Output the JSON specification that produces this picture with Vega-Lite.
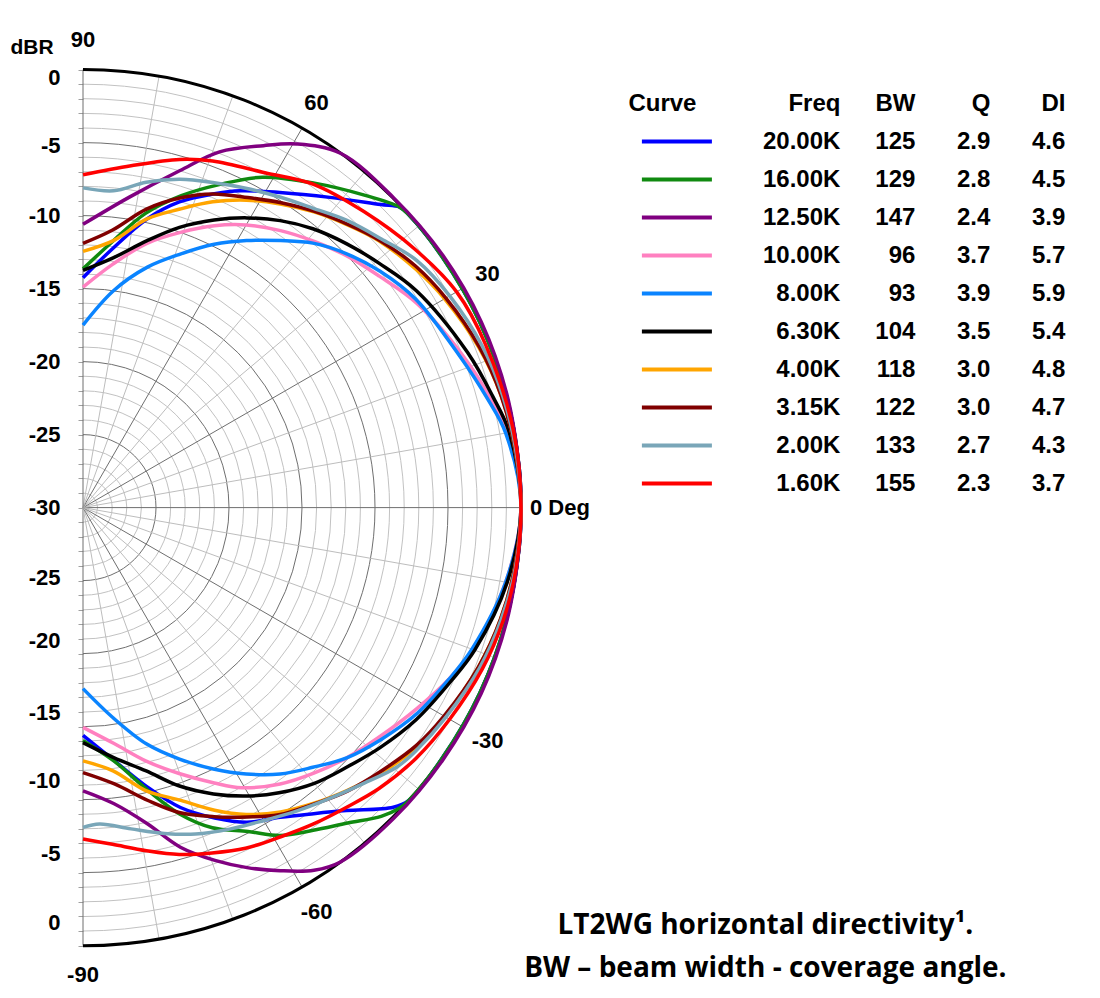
{
  "$schema": "https://vega.github.io/schema/vega-lite/v6.json",
  "background": "white",
  "padding": {"left": 10, "top": 29, "right": 10, "bottom": 5},
  "config": {"view": {"stroke": null}},
  "bounds": "flush",
  "spacing": 154.4,
  "resolve": {"scale": {"x": "independent", "y": "independent", "color": "shared"}},
  "datasets": {
    "curves": [
      {"f":"20.00K","a":-90,"db":-14.4},{"f":"20.00K","a":-83,"db":-12.55},{"f":"20.00K","a":-77,"db":-10.35},{"f":"20.00K","a":-72,"db":-8.4},{"f":"20.00K","a":-67,"db":-6.9},{"f":"20.00K","a":-62.5,"db":-5.7},{"f":"20.00K","a":-57.5,"db":-4.85},{"f":"20.00K","a":-53,"db":-3.75},{"f":"20.00K","a":-49,"db":-2.5},{"f":"20.00K","a":-44,"db":-0.45},{"f":"20.00K","a":-42,"db":0},{"f":"20.00K","a":-35,"db":0},{"f":"20.00K","a":-25,"db":0},{"f":"20.00K","a":-15,"db":0},{"f":"20.00K","a":-5,"db":0},{"f":"20.00K","a":0,"db":0},{"f":"20.00K","a":5,"db":0},{"f":"20.00K","a":15,"db":0},{"f":"20.00K","a":25,"db":0},{"f":"20.00K","a":35,"db":0},{"f":"20.00K","a":42,"db":0},{"f":"20.00K","a":43.5,"db":-0.1},{"f":"20.00K","a":45.5,"db":-0.9},{"f":"20.00K","a":51.5,"db":-2.85},{"f":"20.00K","a":58,"db":-4.55},{"f":"20.00K","a":63.5,"db":-5.75},{"f":"20.00K","a":67.5,"db":-6.75},{"f":"20.00K","a":72.5,"db":-8.05},{"f":"20.00K","a":77.5,"db":-9.75},{"f":"20.00K","a":83.5,"db":-12.15},{"f":"20.00K","a":90,"db":-14.25},
      {"f":"16.00K","a":-90,"db":-14.05},{"f":"16.00K","a":-83,"db":-12.5},{"f":"16.00K","a":-77,"db":-10.1},{"f":"16.00K","a":-72.5,"db":-8.0},{"f":"16.00K","a":-68,"db":-6.35},{"f":"16.00K","a":-63,"db":-5.1},{"f":"16.00K","a":-59,"db":-3.8},{"f":"16.00K","a":-54.5,"db":-2.85},{"f":"16.00K","a":-50,"db":-1.8},{"f":"16.00K","a":-46,"db":-0.6},{"f":"16.00K","a":-43.5,"db":-0.1},{"f":"16.00K","a":-42,"db":0},{"f":"16.00K","a":-35,"db":0},{"f":"16.00K","a":-25,"db":0},{"f":"16.00K","a":-15,"db":0},{"f":"16.00K","a":-5,"db":0},{"f":"16.00K","a":0,"db":0},{"f":"16.00K","a":5,"db":0},{"f":"16.00K","a":15,"db":0},{"f":"16.00K","a":25,"db":0},{"f":"16.00K","a":35,"db":0},{"f":"16.00K","a":42,"db":0},{"f":"16.00K","a":43.5,"db":-0.1},{"f":"16.00K","a":48,"db":-1.2},{"f":"16.00K","a":54.5,"db":-2.7},{"f":"16.00K","a":61.5,"db":-4.25},{"f":"16.00K","a":67,"db":-5.95},{"f":"16.00K","a":72.5,"db":-7.6},{"f":"16.00K","a":78,"db":-9.4},{"f":"16.00K","a":83.5,"db":-11.6},{"f":"16.00K","a":90,"db":-13.65},
      {"f":"12.50K","a":-90,"db":-10.6},{"f":"12.50K","a":-84,"db":-9.6},{"f":"12.50K","a":-78.5,"db":-7.9},{"f":"12.50K","a":-74,"db":-5.8},{"f":"12.50K","a":-69.5,"db":-4.2},{"f":"12.50K","a":-65.5,"db":-2.9},{"f":"12.50K","a":-61.5,"db":-1.7},{"f":"12.50K","a":-57.5,"db":-0.55},{"f":"12.50K","a":-54,"db":0},{"f":"12.50K","a":-45,"db":0.1},{"f":"12.50K","a":-35,"db":0.1},{"f":"12.50K","a":-25,"db":0.1},{"f":"12.50K","a":-15,"db":0.05},{"f":"12.50K","a":-5,"db":0},{"f":"12.50K","a":0,"db":0},{"f":"12.50K","a":5,"db":0},{"f":"12.50K","a":15,"db":0.05},{"f":"12.50K","a":25,"db":0.1},{"f":"12.50K","a":35,"db":0.1},{"f":"12.50K","a":45,"db":0.05},{"f":"12.50K","a":54,"db":0},{"f":"12.50K","a":59.5,"db":-1.1},{"f":"12.50K","a":63.5,"db":-2.3},{"f":"12.50K","a":69,"db":-3.9},{"f":"12.50K","a":74,"db":-6.0},{"f":"12.50K","a":81.5,"db":-8.5},{"f":"12.50K","a":90,"db":-10.6},
      {"f":"10.00K","a":-90,"db":-14.95},{"f":"10.00K","a":-82.5,"db":-13.7},{"f":"10.00K","a":-76,"db":-12.1},{"f":"10.00K","a":-70,"db":-10.6},{"f":"10.00K","a":-64.5,"db":-9.1},{"f":"10.00K","a":-60.5,"db":-7.95},{"f":"10.00K","a":-54.5,"db":-6.75},{"f":"10.00K","a":-49,"db":-5.9},{"f":"10.00K","a":-43.5,"db":-5.1},{"f":"10.00K","a":-37.5,"db":-4.3},{"f":"10.00K","a":-31,"db":-3.3},{"f":"10.00K","a":-25,"db":-2.3},{"f":"10.00K","a":-20,"db":-1.6},{"f":"10.00K","a":-10,"db":-0.6},{"f":"10.00K","a":0,"db":0},{"f":"10.00K","a":10,"db":-0.5},{"f":"10.00K","a":15,"db":-1.1},{"f":"10.00K","a":22,"db":-2.0},{"f":"10.00K","a":31.5,"db":-3.2},{"f":"10.00K","a":38,"db":-4.25},{"f":"10.00K","a":43.5,"db":-5.0},{"f":"10.00K","a":49,"db":-5.85},{"f":"10.00K","a":54.5,"db":-6.7},{"f":"10.00K","a":60,"db":-7.65},{"f":"10.00K","a":65,"db":-8.7},{"f":"10.00K","a":70.5,"db":-10.0},{"f":"10.00K","a":76.5,"db":-11.4},{"f":"10.00K","a":83,"db":-13.2},{"f":"10.00K","a":90,"db":-14.9},
      {"f":"8.00K","a":-90,"db":-17.6},{"f":"8.00K","a":-82,"db":-15.5},{"f":"8.00K","a":-75,"db":-13.25},{"f":"8.00K","a":-69,"db":-11.55},{"f":"8.00K","a":-63.5,"db":-10.0},{"f":"8.00K","a":-58.5,"db":-8.6},{"f":"8.00K","a":-53.5,"db":-7.3},{"f":"8.00K","a":-48.5,"db":-6.25},{"f":"8.00K","a":-43.5,"db":-5.1},{"f":"8.00K","a":-38,"db":-4.15},{"f":"8.00K","a":-31.5,"db":-3.1},{"f":"8.00K","a":-25,"db":-2.3},{"f":"8.00K","a":-20,"db":-1.65},{"f":"8.00K","a":-10,"db":-0.6},{"f":"8.00K","a":0,"db":0},{"f":"8.00K","a":10,"db":-0.6},{"f":"8.00K","a":15,"db":-1.3},{"f":"8.00K","a":22,"db":-2.2},{"f":"8.00K","a":32,"db":-3.1},{"f":"8.00K","a":38.5,"db":-4.0},{"f":"8.00K","a":44,"db":-4.95},{"f":"8.00K","a":49,"db":-6.0},{"f":"8.00K","a":53.5,"db":-7.25},{"f":"8.00K","a":58.5,"db":-8.55},{"f":"8.00K","a":63.5,"db":-9.85},{"f":"8.00K","a":69,"db":-11.4},{"f":"8.00K","a":75,"db":-12.95},{"f":"8.00K","a":82,"db":-15.0},{"f":"8.00K","a":90,"db":-17.5},
      {"f":"6.30K","a":-90,"db":-13.9},{"f":"6.30K","a":-83,"db":-12.75},{"f":"6.30K","a":-76.5,"db":-11.45},{"f":"6.30K","a":-71,"db":-9.85},{"f":"6.30K","a":-65.5,"db":-8.45},{"f":"6.30K","a":-60.5,"db":-7.3},{"f":"6.30K","a":-55.5,"db":-6.3},{"f":"6.30K","a":-50,"db":-5.35},{"f":"6.30K","a":-44.5,"db":-4.65},{"f":"6.30K","a":-39,"db":-3.85},{"f":"6.30K","a":-32.5,"db":-2.95},{"f":"6.30K","a":-25,"db":-2.1},{"f":"6.30K","a":-20,"db":-1.45},{"f":"6.30K","a":-10,"db":-0.5},{"f":"6.30K","a":0,"db":0},{"f":"6.30K","a":10,"db":-0.35},{"f":"6.30K","a":15,"db":-0.9},{"f":"6.30K","a":22,"db":-1.6},{"f":"6.30K","a":33,"db":-2.75},{"f":"6.30K","a":39.5,"db":-3.7},{"f":"6.30K","a":45,"db":-4.45},{"f":"6.30K","a":50.5,"db":-5.25},{"f":"6.30K","a":55.5,"db":-6.15},{"f":"6.30K","a":60.5,"db":-7.2},{"f":"6.30K","a":65.5,"db":-8.35},{"f":"6.30K","a":71,"db":-9.7},{"f":"6.30K","a":76.5,"db":-11.2},{"f":"6.30K","a":83,"db":-12.75},{"f":"6.30K","a":90,"db":-13.75},
      {"f":"4.00K","a":-90,"db":-12.65},{"f":"4.00K","a":-83.5,"db":-11.85},{"f":"4.00K","a":-77.5,"db":-10.15},{"f":"4.00K","a":-71.5,"db":-8.85},{"f":"4.00K","a":-66.5,"db":-7.4},{"f":"4.00K","a":-62,"db":-6.2},{"f":"4.00K","a":-57,"db":-5.15},{"f":"4.00K","a":-52,"db":-4.3},{"f":"4.00K","a":-47,"db":-3.5},{"f":"4.00K","a":-42,"db":-2.7},{"f":"4.00K","a":-35.5,"db":-1.85},{"f":"4.00K","a":-30,"db":-1.4},{"f":"4.00K","a":-22,"db":-0.8},{"f":"4.00K","a":-15,"db":-0.4},{"f":"4.00K","a":-8,"db":-0.15},{"f":"4.00K","a":0,"db":0},{"f":"4.00K","a":8,"db":-0.15},{"f":"4.00K","a":15,"db":-0.35},{"f":"4.00K","a":22,"db":-0.75},{"f":"4.00K","a":30,"db":-1.4},{"f":"4.00K","a":35.5,"db":-1.95},{"f":"4.00K","a":42,"db":-2.7},{"f":"4.00K","a":47,"db":-3.5},{"f":"4.00K","a":52,"db":-4.3},{"f":"4.00K","a":57,"db":-5.2},{"f":"4.00K","a":62,"db":-6.15},{"f":"4.00K","a":67,"db":-7.25},{"f":"4.00K","a":72,"db":-8.5},{"f":"4.00K","a":77.5,"db":-9.75},{"f":"4.00K","a":83.5,"db":-11.6},{"f":"4.00K","a":90,"db":-12.45},
      {"f":"3.15K","a":-90,"db":-11.85},{"f":"3.15K","a":-83.5,"db":-10.95},{"f":"3.15K","a":-77.5,"db":-9.45},{"f":"3.15K","a":-72.5,"db":-8.1},{"f":"3.15K","a":-67,"db":-7.0},{"f":"3.15K","a":-62,"db":-6.0},{"f":"3.15K","a":-57.5,"db":-5.05},{"f":"3.15K","a":-52,"db":-4.25},{"f":"3.15K","a":-47,"db":-3.45},{"f":"3.15K","a":-41.5,"db":-2.75},{"f":"3.15K","a":-35.5,"db":-1.95},{"f":"3.15K","a":-30,"db":-1.45},{"f":"3.15K","a":-22,"db":-0.8},{"f":"3.15K","a":-15,"db":-0.4},{"f":"3.15K","a":-8,"db":-0.15},{"f":"3.15K","a":0,"db":0},{"f":"3.15K","a":8,"db":-0.15},{"f":"3.15K","a":15,"db":-0.35},{"f":"3.15K","a":22,"db":-0.7},{"f":"3.15K","a":30,"db":-1.3},{"f":"3.15K","a":36,"db":-1.85},{"f":"3.15K","a":42,"db":-2.65},{"f":"3.15K","a":47,"db":-3.45},{"f":"3.15K","a":52,"db":-4.25},{"f":"3.15K","a":57,"db":-5.1},{"f":"3.15K","a":62,"db":-5.95},{"f":"3.15K","a":67.5,"db":-6.75},{"f":"3.15K","a":72.5,"db":-7.75},{"f":"3.15K","a":78,"db":-9.1},{"f":"3.15K","a":84,"db":-10.9},{"f":"3.15K","a":90,"db":-11.9},
      {"f":"2.00K","a":-90,"db":-8.1},{"f":"2.00K","a":-87,"db":-8.3},{"f":"2.00K","a":-81.5,"db":-7.75},{"f":"2.00K","a":-76,"db":-7.0},{"f":"2.00K","a":-71,"db":-6.35},{"f":"2.00K","a":-65.5,"db":-5.8},{"f":"2.00K","a":-60,"db":-5.25},{"f":"2.00K","a":-55,"db":-4.6},{"f":"2.00K","a":-49.5,"db":-3.85},{"f":"2.00K","a":-44.5,"db":-3.05},{"f":"2.00K","a":-39.5,"db":-2.1},{"f":"2.00K","a":-36,"db":-1.75},{"f":"2.00K","a":-30,"db":-1.3},{"f":"2.00K","a":-22,"db":-0.7},{"f":"2.00K","a":-15,"db":-0.35},{"f":"2.00K","a":-8,"db":-0.1},{"f":"2.00K","a":0,"db":0},{"f":"2.00K","a":8,"db":-0.1},{"f":"2.00K","a":15,"db":-0.25},{"f":"2.00K","a":22,"db":-0.5},{"f":"2.00K","a":30,"db":-1.0},{"f":"2.00K","a":36.5,"db":-1.55},{"f":"2.00K","a":42,"db":-2.5},{"f":"2.00K","a":47.5,"db":-3.3},{"f":"2.00K","a":52.5,"db":-4.15},{"f":"2.00K","a":57.5,"db":-4.8},{"f":"2.00K","a":63,"db":-5.45},{"f":"2.00K","a":68,"db":-6.0},{"f":"2.00K","a":73.5,"db":-6.55},{"f":"2.00K","a":79,"db":-7.3},{"f":"2.00K","a":84.5,"db":-8.2},{"f":"2.00K","a":90,"db":-8.1},
      {"f":"1.60K","a":-90,"db":-7.3},{"f":"1.60K","a":-85,"db":-6.85},{"f":"1.60K","a":-79.5,"db":-6.1},{"f":"1.60K","a":-74.5,"db":-5.35},{"f":"1.60K","a":-69.5,"db":-4.75},{"f":"1.60K","a":-64.5,"db":-4.15},{"f":"1.60K","a":-59,"db":-3.7},{"f":"1.60K","a":-54,"db":-3.2},{"f":"1.60K","a":-48.5,"db":-2.65},{"f":"1.60K","a":-43.5,"db":-2.05},{"f":"1.60K","a":-37,"db":-1.45},{"f":"1.60K","a":-30,"db":-1.0},{"f":"1.60K","a":-22,"db":-0.5},{"f":"1.60K","a":-15,"db":-0.2},{"f":"1.60K","a":-8,"db":-0.05},{"f":"1.60K","a":0,"db":0},{"f":"1.60K","a":10,"db":-0.05},{"f":"1.60K","a":22,"db":-0.25},{"f":"1.60K","a":30,"db":-0.45},{"f":"1.60K","a":38,"db":-1.2},{"f":"1.60K","a":46.5,"db":-2.05},{"f":"1.60K","a":54.5,"db":-2.8},{"f":"1.60K","a":61.5,"db":-3.9},{"f":"1.60K","a":69.5,"db":-4.65},{"f":"1.60K","a":74.5,"db":-5.25},{"f":"1.60K","a":82,"db":-6.35},{"f":"1.60K","a":90,"db":-7.2}
    ],
    "table": [
      {"f":"20.00K","bw":"125","q":"2.9","di":"4.6"},
      {"f":"16.00K","bw":"129","q":"2.8","di":"4.5"},
      {"f":"12.50K","bw":"147","q":"2.4","di":"3.9"},
      {"f":"10.00K","bw":"96","q":"3.7","di":"5.7"},
      {"f":"8.00K","bw":"93","q":"3.9","di":"5.9"},
      {"f":"6.30K","bw":"104","q":"3.5","di":"5.4"},
      {"f":"4.00K","bw":"118","q":"3.0","di":"4.8"},
      {"f":"3.15K","bw":"122","q":"3.0","di":"4.7"},
      {"f":"2.00K","bw":"133","q":"2.7","di":"4.3"},
      {"f":"1.60K","bw":"155","q":"2.3","di":"3.7"}
    ],
    "rings": [
      {"r":1},{"r":2},{"r":3},{"r":4},{"r":5},{"r":6},{"r":7},{"r":8},{"r":9},{"r":10},
      {"r":11},{"r":12},{"r":13},{"r":14},{"r":15},{"r":16},{"r":17},{"r":18},{"r":19},{"r":20},
      {"r":21},{"r":22},{"r":23},{"r":24},{"r":25},{"r":26},{"r":27},{"r":28},{"r":29}
    ],
    "spokes": [
      {"a":-90,"r":0},{"a":-90,"r":30},{"a":-80,"r":0},{"a":-80,"r":30},{"a":-70,"r":0},{"a":-70,"r":30},
      {"a":-60,"r":0},{"a":-60,"r":30},{"a":-50,"r":0},{"a":-50,"r":30},{"a":-40,"r":0},{"a":-40,"r":30},
      {"a":-30,"r":0},{"a":-30,"r":30},{"a":-20,"r":0},{"a":-20,"r":30},{"a":-10,"r":0},{"a":-10,"r":30},
      {"a":0,"r":0},{"a":0,"r":30},{"a":10,"r":0},{"a":10,"r":30},{"a":20,"r":0},{"a":20,"r":30},
      {"a":30,"r":0},{"a":30,"r":30},{"a":40,"r":0},{"a":40,"r":30},{"a":50,"r":0},{"a":50,"r":30},
      {"a":60,"r":0},{"a":60,"r":30},{"a":70,"r":0},{"a":70,"r":30},{"a":80,"r":0},{"a":80,"r":30},
      {"a":90,"r":0},{"a":90,"r":30}
    ]
  },
  "hconcat": [
    {
      "width": 452.6,
      "height": 905.2,
      "layer": [
        {
          "data": {"name": "rings"},
          "mark": {"type": "point", "shape": "circle", "filled": false, "clip": true, "strokeWidth": 1, "opacity": 1},
          "encoding": {
            "x": {"datum": 0, "type": "quantitative", "scale": {"domain": [0, 31], "nice": false, "zero": false}, "axis": null},
            "y": {"datum": 0, "type": "quantitative", "scale": {"domain": [-31, 31], "nice": false, "zero": false},
              "axis": {"values": [-30,-29,-28,-27,-26,-25,-24,-23,-22,-21,-20,-19,-18,-17,-16,-15,-14,-13,-12,-11,-10,-9,-8,-7,-6,-5,-4,-3,-2,-1,0,1,2,3,4,5,6,7,8,9,10,11,12,13,14,15,16,17,18,19,20,21,22,23,24,25,26,27,28,29,30], "labelExpr": "datum.value % 5 != 0 ? '' : (abs(datum.value) == 30 ? '0' : '-' + (30 - abs(datum.value)))", "labelFont": "Liberation Sans", "labelFontWeight": "bold", "labelFontSize": 22, "labelColor": "black", "labelPadding": 18, "labelOverlap": false, "labelBound": false, "labelBaseline": "middle", "labelOffset": {"condition": [{"test": "datum.value == 30", "value": 8}, {"test": "datum.value == 25", "value": 3}, {"test": "datum.value == -5", "value": -3}, {"test": "datum.value == -10", "value": -13}, {"test": "datum.value == -15", "value": -14}, {"test": "datum.value == -20 || datum.value == -25", "value": -19}, {"test": "datum.value == -30", "value": -23}], "value": 0}, "tickSize": 5, "tickColor": "#a0a0a0", "domain": false, "grid": false, "title": "dBR", "titleAngle": 0, "titleAlign": "left", "titleBaseline": "middle", "titleX": -73, "titleY": -8, "titleFont": "Liberation Sans", "titleFontWeight": "bold", "titleFontSize": 21, "titleColor": "black"}},
            "size": {"field": "r", "type": "quantitative", "scale": {"type": "pow", "exponent": 2, "domain": [0, 30], "range": [0, 767376]}, "legend": null},
            "stroke": {"condition": {"test": "datum.r % 5 == 0", "value": "#6f6f6f"}, "value": "#c2c2c2"}
          }
        },
        {
          "data": {"name": "spokes"},
          "transform": [
            {"calculate": "datum.r * cos(datum.a * PI / 180)", "as": "sx"},
            {"calculate": "datum.r * sin(datum.a * PI / 180)", "as": "sy"}
          ],
          "mark": {"type": "line", "strokeWidth": 1},
          "encoding": {
            "x": {"field": "sx", "type": "quantitative", "scale": {"domain": [0, 31], "nice": false, "zero": false}, "axis": null},
            "y": {"field": "sy", "type": "quantitative", "scale": {"domain": [-31, 31], "nice": false, "zero": false},
              "axis": {"values": [-30,-29,-28,-27,-26,-25,-24,-23,-22,-21,-20,-19,-18,-17,-16,-15,-14,-13,-12,-11,-10,-9,-8,-7,-6,-5,-4,-3,-2,-1,0,1,2,3,4,5,6,7,8,9,10,11,12,13,14,15,16,17,18,19,20,21,22,23,24,25,26,27,28,29,30], "labelExpr": "datum.value % 5 != 0 ? '' : (abs(datum.value) == 30 ? '0' : '-' + (30 - abs(datum.value)))", "labelFont": "Liberation Sans", "labelFontWeight": "bold", "labelFontSize": 22, "labelColor": "black", "labelPadding": 18, "labelOverlap": false, "labelBound": false, "labelBaseline": "middle", "labelOffset": {"condition": [{"test": "datum.value == 30", "value": 8}, {"test": "datum.value == 25", "value": 3}, {"test": "datum.value == -5", "value": -3}, {"test": "datum.value == -10", "value": -13}, {"test": "datum.value == -15", "value": -14}, {"test": "datum.value == -20 || datum.value == -25", "value": -19}, {"test": "datum.value == -30", "value": -23}], "value": 0}, "tickSize": 5, "tickColor": "#a0a0a0", "domain": false, "grid": false, "title": "dBR", "titleAngle": 0, "titleAlign": "left", "titleBaseline": "middle", "titleX": -73, "titleY": -8, "titleFont": "Liberation Sans", "titleFontWeight": "bold", "titleFontSize": 21, "titleColor": "black"}},
            "detail": {"field": "a", "type": "nominal"},
            "order": {"field": "r", "type": "quantitative"},
            "color": {"condition": {"test": "datum.a % 30 == 0", "value": "#6f6f6f"}, "value": "#bdbdbd"}
          }
        },
        {
          "data": {"values": [{"r": 30}]},
          "mark": {"type": "point", "shape": "circle", "filled": false, "clip": true, "strokeWidth": 3, "opacity": 1, "stroke": "black"},
          "encoding": {
            "x": {"datum": 0, "type": "quantitative", "scale": {"domain": [0, 31], "nice": false, "zero": false}, "axis": null},
            "y": {"datum": 0, "type": "quantitative", "scale": {"domain": [-31, 31], "nice": false, "zero": false},
              "axis": {"values": [-30,-29,-28,-27,-26,-25,-24,-23,-22,-21,-20,-19,-18,-17,-16,-15,-14,-13,-12,-11,-10,-9,-8,-7,-6,-5,-4,-3,-2,-1,0,1,2,3,4,5,6,7,8,9,10,11,12,13,14,15,16,17,18,19,20,21,22,23,24,25,26,27,28,29,30], "labelExpr": "datum.value % 5 != 0 ? '' : (abs(datum.value) == 30 ? '0' : '-' + (30 - abs(datum.value)))", "labelFont": "Liberation Sans", "labelFontWeight": "bold", "labelFontSize": 22, "labelColor": "black", "labelPadding": 18, "labelOverlap": false, "labelBound": false, "labelBaseline": "middle", "labelOffset": {"condition": [{"test": "datum.value == 30", "value": 8}, {"test": "datum.value == 25", "value": 3}, {"test": "datum.value == -5", "value": -3}, {"test": "datum.value == -10", "value": -13}, {"test": "datum.value == -15", "value": -14}, {"test": "datum.value == -20 || datum.value == -25", "value": -19}, {"test": "datum.value == -30", "value": -23}], "value": 0}, "tickSize": 5, "tickColor": "#a0a0a0", "domain": false, "grid": false, "title": "dBR", "titleAngle": 0, "titleAlign": "left", "titleBaseline": "middle", "titleX": -73, "titleY": -8, "titleFont": "Liberation Sans", "titleFontWeight": "bold", "titleFontSize": 21, "titleColor": "black"}},
            "size": {"field": "r", "type": "quantitative", "scale": {"type": "pow", "exponent": 2, "domain": [0, 30], "range": [0, 767376]}, "legend": null}
          }
        },
        {
          "data": {"name": "curves"},
          "transform": [
            {"calculate": "(datum.db + 30) * cos(datum.a * PI / 180)", "as": "x"},
            {"calculate": "(datum.db + 30) * sin(datum.a * PI / 180)", "as": "y"}
          ],
          "mark": {"type": "line", "strokeWidth": 3.5, "interpolate": "catmull-rom", "strokeJoin": "round"},
          "encoding": {
            "x": {"field": "x", "type": "quantitative", "scale": {"domain": [0, 31], "nice": false, "zero": false}, "axis": null},
            "y": {"field": "y", "type": "quantitative", "scale": {"domain": [-31, 31], "nice": false, "zero": false},
              "axis": {"values": [-30,-29,-28,-27,-26,-25,-24,-23,-22,-21,-20,-19,-18,-17,-16,-15,-14,-13,-12,-11,-10,-9,-8,-7,-6,-5,-4,-3,-2,-1,0,1,2,3,4,5,6,7,8,9,10,11,12,13,14,15,16,17,18,19,20,21,22,23,24,25,26,27,28,29,30], "labelExpr": "datum.value % 5 != 0 ? '' : (abs(datum.value) == 30 ? '0' : '-' + (30 - abs(datum.value)))", "labelFont": "Liberation Sans", "labelFontWeight": "bold", "labelFontSize": 22, "labelColor": "black", "labelPadding": 18, "labelOverlap": false, "labelBound": false, "labelBaseline": "middle", "labelOffset": {"condition": [{"test": "datum.value == 30", "value": 8}, {"test": "datum.value == 25", "value": 3}, {"test": "datum.value == -5", "value": -3}, {"test": "datum.value == -10", "value": -13}, {"test": "datum.value == -15", "value": -14}, {"test": "datum.value == -20 || datum.value == -25", "value": -19}, {"test": "datum.value == -30", "value": -23}], "value": 0}, "tickSize": 5, "tickColor": "#a0a0a0", "domain": false, "grid": false, "title": "dBR", "titleAngle": 0, "titleAlign": "left", "titleBaseline": "middle", "titleX": -73, "titleY": -8, "titleFont": "Liberation Sans", "titleFontWeight": "bold", "titleFontSize": 21, "titleColor": "black"}},
            "color": {
              "field": "f", "type": "nominal",
              "scale": {
                "domain": ["20.00K","16.00K","12.50K","10.00K","8.00K","6.30K","4.00K","3.15K","2.00K","1.60K"],
                "range": ["#0000ff","#108a10","#800080","#ff80c0","#0a84ff","#000000","#ffa500","#800000","#79a6b8","#ff0000"]
              },
              "legend": null
            },
            "order": {"field": "a", "type": "quantitative"}
          }
        },
        {
          "data": {"values": [{"a": 90, "t": "90"}, {"a": 60, "t": "60"}, {"a": 30, "t": "30"}, {"a": -30, "t": "-30"}, {"a": -60, "t": "-60"}, {"a": -90, "t": "-90"}]},
          "transform": [
            {"calculate": "32 * cos(datum.a * PI / 180)", "as": "lx"},
            {"calculate": "32 * sin(datum.a * PI / 180)", "as": "ly"}
          ],
          "mark": {"type": "text", "font": "Liberation Sans", "fontWeight": "bold", "fontSize": 22, "align": "center", "baseline": "middle", "color": "black"},
          "encoding": {
            "x": {"field": "lx", "type": "quantitative", "scale": {"domain": [0, 31], "nice": false, "zero": false}, "axis": null},
            "y": {"field": "ly", "type": "quantitative", "scale": {"domain": [-31, 31], "nice": false, "zero": false},
              "axis": {"values": [-30,-29,-28,-27,-26,-25,-24,-23,-22,-21,-20,-19,-18,-17,-16,-15,-14,-13,-12,-11,-10,-9,-8,-7,-6,-5,-4,-3,-2,-1,0,1,2,3,4,5,6,7,8,9,10,11,12,13,14,15,16,17,18,19,20,21,22,23,24,25,26,27,28,29,30], "labelExpr": "datum.value % 5 != 0 ? '' : (abs(datum.value) == 30 ? '0' : '-' + (30 - abs(datum.value)))", "labelFont": "Liberation Sans", "labelFontWeight": "bold", "labelFontSize": 22, "labelColor": "black", "labelPadding": 18, "labelOverlap": false, "labelBound": false, "labelBaseline": "middle", "labelOffset": {"condition": [{"test": "datum.value == 30", "value": 8}, {"test": "datum.value == 25", "value": 3}, {"test": "datum.value == -5", "value": -3}, {"test": "datum.value == -10", "value": -13}, {"test": "datum.value == -15", "value": -14}, {"test": "datum.value == -20 || datum.value == -25", "value": -19}, {"test": "datum.value == -30", "value": -23}], "value": 0}, "tickSize": 5, "tickColor": "#a0a0a0", "domain": false, "grid": false, "title": "dBR", "titleAngle": 0, "titleAlign": "left", "titleBaseline": "middle", "titleX": -73, "titleY": -8, "titleFont": "Liberation Sans", "titleFontWeight": "bold", "titleFontSize": 21, "titleColor": "black"}},
            "text": {"field": "t"}
          }
        },
        {
          "data": {"values": [{"t": "0 Deg"}]},
          "mark": {"type": "text", "font": "Liberation Sans", "fontWeight": "bold", "fontSize": 22, "align": "left", "baseline": "middle", "dx": 9, "color": "black"},
          "encoding": {
            "x": {"datum": 30, "type": "quantitative", "scale": {"domain": [0, 31], "nice": false, "zero": false}, "axis": null},
            "y": {"datum": 0, "type": "quantitative", "scale": {"domain": [-31, 31], "nice": false, "zero": false},
              "axis": {"values": [-30,-29,-28,-27,-26,-25,-24,-23,-22,-21,-20,-19,-18,-17,-16,-15,-14,-13,-12,-11,-10,-9,-8,-7,-6,-5,-4,-3,-2,-1,0,1,2,3,4,5,6,7,8,9,10,11,12,13,14,15,16,17,18,19,20,21,22,23,24,25,26,27,28,29,30], "labelExpr": "datum.value % 5 != 0 ? '' : (abs(datum.value) == 30 ? '0' : '-' + (30 - abs(datum.value)))", "labelFont": "Liberation Sans", "labelFontWeight": "bold", "labelFontSize": 22, "labelColor": "black", "labelPadding": 18, "labelOverlap": false, "labelBound": false, "labelBaseline": "middle", "labelOffset": {"condition": [{"test": "datum.value == 30", "value": 8}, {"test": "datum.value == 25", "value": 3}, {"test": "datum.value == -5", "value": -3}, {"test": "datum.value == -10", "value": -13}, {"test": "datum.value == -15", "value": -14}, {"test": "datum.value == -20 || datum.value == -25", "value": -19}, {"test": "datum.value == -30", "value": -23}], "value": 0}, "tickSize": 5, "tickColor": "#a0a0a0", "domain": false, "grid": false, "title": "dBR", "titleAngle": 0, "titleAlign": "left", "titleBaseline": "middle", "titleX": -73, "titleY": -8, "titleFont": "Liberation Sans", "titleFontWeight": "bold", "titleFontSize": 21, "titleColor": "black"}},
            "text": {"field": "t"}
          }
        }
      ]
    },
    {
      "bounds": "flush",
      "spacing": 490.5,
      "resolve": {"scale": {"x": "independent", "y": "independent"}},
      "vconcat": [
        {
          "width": 375,
          "height": 380,
          "layer": [
            {
              "data": {"name": "table"},
              "mark": {"type": "tick", "orient": "horizontal", "size": 70, "thickness": 4, "xOffset": -13.5, "yOffset": 48.5, "opacity": 1},
              "encoding": {
                "x": {"datum": "Curve", "type": "nominal", "scale": {"type": "point", "domain": ["Curve","gap","f","bw","q","di"], "padding": 0}, "axis": null},
                "y": {"field": "f", "type": "nominal", "scale": {"type": "point", "domain": ["hdr","20.00K","16.00K","12.50K","10.00K","8.00K","6.30K","4.00K","3.15K","2.00K","1.60K"], "padding": 0}, "axis": null},
                "color": {
                  "field": "f", "type": "nominal",
                  "scale": {
                    "domain": ["20.00K","16.00K","12.50K","10.00K","8.00K","6.30K","4.00K","3.15K","2.00K","1.60K"],
                    "range": ["#0000ff","#108a10","#800080","#ff80c0","#0a84ff","#000000","#ffa500","#800000","#79a6b8","#ff0000"]
                  },
                  "legend": null
                }
              }
            },
            {
              "data": {"name": "table"},
              "transform": [{"fold": ["f", "bw", "q", "di"], "as": ["k", "v"]}],
              "mark": {"type": "text", "font": "Liberation Sans", "fontWeight": "bold", "fontSize": 24, "align": "right", "baseline": "middle", "yOffset": 48.5, "color": "black"},
              "encoding": {
                "x": {"field": "k", "type": "nominal", "scale": {"type": "point", "domain": ["Curve","gap","f","bw","q","di"], "padding": 0}, "axis": null},
                "y": {"field": "f", "type": "nominal", "scale": {"type": "point", "domain": ["hdr","20.00K","16.00K","12.50K","10.00K","8.00K","6.30K","4.00K","3.15K","2.00K","1.60K"], "padding": 0}, "axis": null},
                "text": {"field": "v"}
              }
            },
            {
              "data": {"values": [{"k": "f", "h": "Freq", "row": "hdr"}, {"k": "bw", "h": "BW", "row": "hdr"}, {"k": "q", "h": "Q", "row": "hdr"}, {"k": "di", "h": "DI", "row": "hdr"}]},
              "mark": {"type": "text", "font": "Liberation Sans", "fontWeight": "bold", "fontSize": 24, "align": "right", "baseline": "middle", "yOffset": 48.5, "color": "black"},
              "encoding": {
                "x": {"field": "k", "type": "nominal", "scale": {"type": "point", "domain": ["Curve","gap","f","bw","q","di"], "padding": 0}, "axis": null},
                "y": {"field": "row", "type": "nominal", "scale": {"type": "point", "domain": ["hdr","20.00K","16.00K","12.50K","10.00K","8.00K","6.30K","4.00K","3.15K","2.00K","1.60K"], "padding": 0}, "axis": null},
                "text": {"field": "h"}
              }
            },
            {
              "data": {"values": [{"k": "Curve", "h": "Curve", "row": "hdr"}]},
              "mark": {"type": "text", "font": "Liberation Sans", "fontWeight": "bold", "fontSize": 24, "align": "left", "baseline": "middle", "dx": -62, "yOffset": 48.5, "color": "black"},
              "encoding": {
                "x": {"field": "k", "type": "nominal", "scale": {"type": "point", "domain": ["Curve","gap","f","bw","q","di"], "padding": 0}, "axis": null},
                "y": {"field": "row", "type": "nominal", "scale": {"type": "point", "domain": ["hdr","20.00K","16.00K","12.50K","10.00K","8.00K","6.30K","4.00K","3.15K","2.00K","1.60K"], "padding": 0}, "axis": null},
                "text": {"field": "h"}
              }
            }
          ]
        },
        {
          "width": 150,
          "height": 43,
          "data": {"values": [{"k": "l1", "t": "LT2WG horizontal directivity¹."}, {"k": "l2", "t": "BW – beam width - coverage angle."}]},
          "mark": {"type": "text", "font": "Open Sans", "fontWeight": "bold", "fontSize": 28, "align": "center", "baseline": "middle", "color": "black"},
          "encoding": {
            "x": {"datum": 0.5, "type": "quantitative", "scale": {"domain": [0, 1]}, "axis": null},
            "y": {"field": "k", "type": "nominal", "scale": {"type": "point", "domain": ["l1", "l2"], "padding": 0}, "axis": null},
            "text": {"field": "t"}
          }
        }
      ]
    }
  ]
}
